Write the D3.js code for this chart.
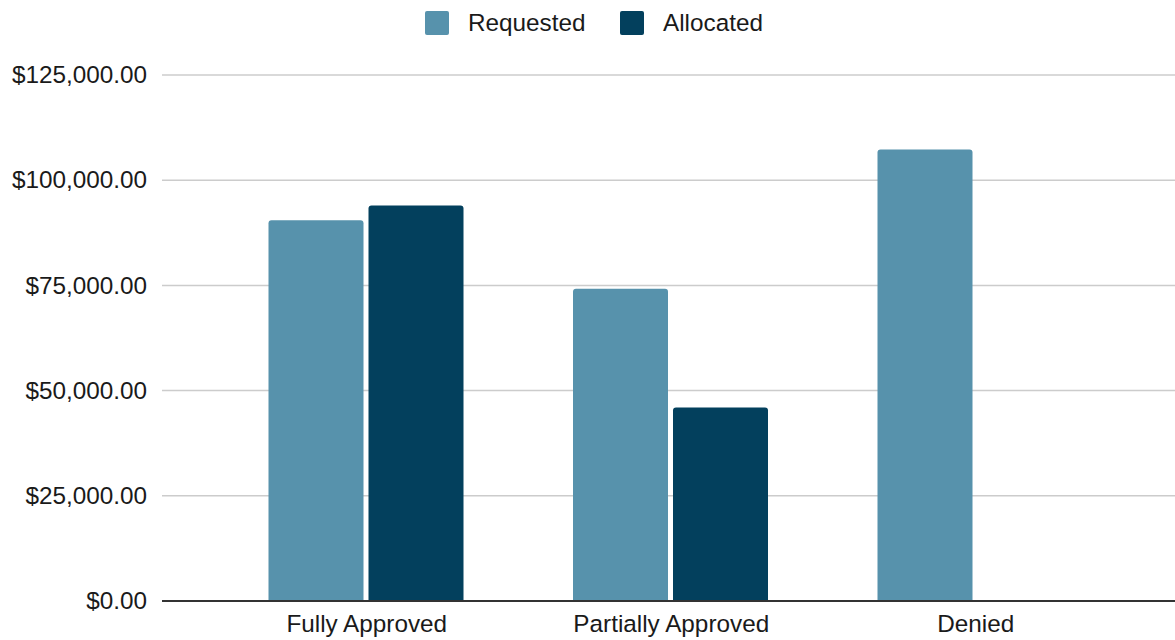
<!DOCTYPE html>
<html><head><meta charset="utf-8">
<script src="https://cdn.jsdelivr.net/npm/d3@7"></script>
<style>html,body{margin:0;padding:0;background:#fff;}svg{display:block;font-family:"Liberation Sans",Arial,sans-serif;}</style>
</head><body><div id="chart"></div>
<script>
const categories = ["Fully Approved", "Partially Approved", "Denied"];
const seriesNames = ["Requested", "Allocated"];
const requested = [90500, 74200, 107300];
const allocated = [94000, 46000, 0];
const yTicks = [0, 25000, 50000, 75000, 100000, 125000];
const colors = ["#5792ac", "#03405d"];

const W = 1175, H = 640;
const svg = d3.select("#chart").append("svg").attr("width", W).attr("height", H);

const y = d3.scaleLinear().domain([0, 125000]).range([601, 75]);
const x0 = d3.scaleBand().domain(categories).range([214.5, 1128]).padding(0);
const x1 = d3.scaleBand().domain(seriesNames).range([54, 249]).paddingInner(0.05);

const fmt = v => "$" + d3.format(",.2f")(v);

const yAxis = d3.axisLeft(y).tickValues(yTicks).tickFormat(fmt).tickSize(0).tickPadding(15);
const ga = svg.append("g").attr("transform", "translate(162,0)").call(yAxis);
ga.select(".domain").remove();
ga.selectAll("text").attr("font-size", 24.3).attr("fill", "#1a1a1a").attr("font-family", '"Liberation Sans",Arial,sans-serif');
svg.append("g").selectAll("line").data(yTicks.filter(t => t > 0)).join("line")
  .attr("x1", 162).attr("x2", W).attr("y1", d => y(d)).attr("y2", d => y(d))
  .attr("stroke", "#cccccc").attr("stroke-width", 1.5);

const data = categories.map((c, i) => ({ cat: c, vals: [requested[i], allocated[i]] }));
function topRounded(xp, yt, w, h, r) {
  if (h <= 0) return "";
  r = Math.min(r, h, w / 2);
  return `M${xp},${yt + h}V${yt + r}Q${xp},${yt} ${xp + r},${yt}H${xp + w - r}Q${xp + w},${yt} ${xp + w},${yt + r}V${yt + h}Z`;
}
const groups = svg.append("g").selectAll("g").data(data).join("g")
  .attr("transform", d => `translate(${x0(d.cat)},0)`);
groups.selectAll("path").data(d => d.vals.map((v, i) => ({ s: seriesNames[i], v, i })).filter(d => d.v > 0)).join("path")
  .attr("d", d => topRounded(x1(d.s), y(d.v), x1.bandwidth(), y(0) - y(d.v), 3))
  .attr("fill", d => colors[d.i]);

svg.append("line").attr("x1", 162).attr("x2", W).attr("y1", y(0)).attr("y2", y(0))
  .attr("stroke", "#333").attr("stroke-width", 2);

const xAxis = d3.axisBottom(x0).tickSize(0).tickPadding(14);
const gx = svg.append("g").attr("transform", `translate(0,${y(0)})`).call(xAxis);
gx.select(".domain").remove();
gx.selectAll("text").attr("font-size", 24.3).attr("fill", "#1a1a1a").attr("font-family", '"Liberation Sans",Arial,sans-serif');

const legendX = [425, 620];
const lg = svg.append("g").selectAll("g").data(seriesNames).join("g")
  .attr("transform", (d, i) => `translate(${legendX[i]},11)`);
lg.append("rect").attr("width", 24).attr("height", 24).attr("rx", 2).attr("fill", (d, i) => colors[i]);
lg.append("text").attr("x", 43).attr("y", 20).attr("font-size", 24.3).attr("fill", "#1a1a1a").text(d => d);
</script>
</body></html>
